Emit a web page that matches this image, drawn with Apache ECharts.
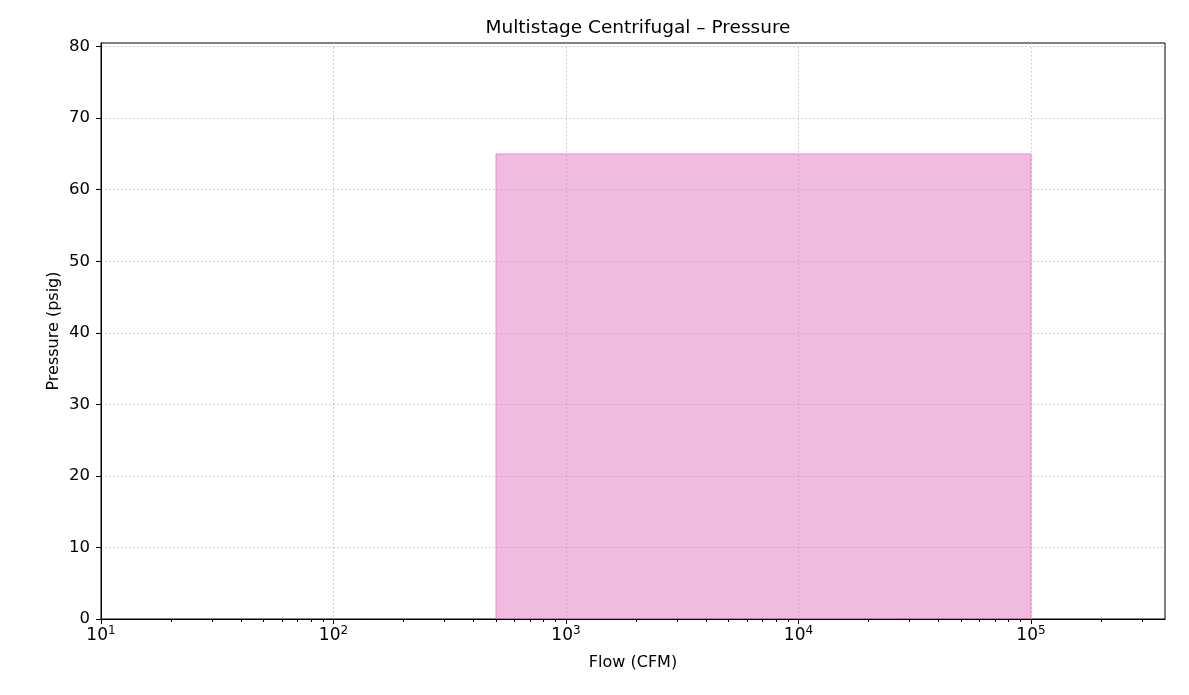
<!DOCTYPE html>
<html>
<head>
<meta charset="utf-8">
<script src="https://cdn.jsdelivr.net/npm/echarts@6/dist/echarts.min.js"></script>
<style>html,body{margin:0;padding:0;background:#fff}#c{width:1189px;height:695px}</style>
</head>
<body>
<div id="c"></div>
<script>
const title = 'Multistage Centrifugal \u2013 Pressure';
const xName = 'Flow (CFM)';
const yName = 'Pressure (psig)';
const flowRange = [500, 100000];
const pressureRange = [0, 65];
const xMajorTicks = [10, 100, 1000, 10000, 100000];
const xMinorTicks = [];
for (let d = 10; d <= 100000; d *= 10) { for (let k = 2; k <= 9; k++) { if (d * k < 377000) xMinorTicks.push(d * k); } }
const yTicks = [0, 10, 20, 30, 40, 50, 60, 70, 80];
const xMin = 10, xMax = 377000, yMin = 0, yMax = 80.5;

const font = 'DejaVu Sans';
const chart = echarts.init(document.getElementById('c'), null, {renderer: 'canvas'});
const rectData = [[flowRange[0], pressureRange[0]], [flowRange[0], pressureRange[1]], [flowRange[1], pressureRange[1]], [flowRange[1], pressureRange[0]]];
chart.setOption({
  animation: false,
  title: {text: title, left: 633, top: 14, textAlign: 'center', textStyle: {fontFamily: font, fontSize: 18.5, fontWeight: 'normal', color: '#000'}},
  grid: {left: 101, right: 24, top: 43, bottom: 76, show: true, borderColor: '#000', borderWidth: 1, backgroundColor: 'transparent'},
  xAxis: [{
    type: 'log', logBase: 10, min: xMin, max: xMax,
    name: xName, nameLocation: 'middle', nameGap: 36,
    nameTextStyle: {fontFamily: font, fontSize: 16, color: '#000'},
    axisLine: {lineStyle: {color: '#000', width: 1}},
    axisTick: {customValues: xMajorTicks, length: 5, lineStyle: {color: '#000'}},
    axisLabel: {customValues: xMajorTicks, margin: 6, fontFamily: font, fontSize: 17, color: '#000',
      formatter: v => '{b|10}{s|' + Math.round(Math.log10(v)) + '}',
      rich: {
        b: {fontFamily: font, fontSize: 17, color: '#000'},
        s: {fontFamily: font, fontSize: 12, color: '#000', padding: [0, 0, 9, 0]}
      }},
    splitLine: {show: true, lineStyle: {color: '#b0b0b0', type: [1.5, 2.5], width: 0.8}},
    minorTick: {show: false}
  }, {
    type: 'log', logBase: 10, min: xMin, max: xMax, position: 'bottom', gridIndex: 0,
    axisLine: {show: false},
    axisTick: {customValues: xMinorTicks, length: 3, lineStyle: {color: '#000'}},
    axisLabel: {show: false},
    splitLine: {show: false}
  }],
  yAxis: {
    type: 'value', min: yMin, max: yMax,
    name: yName, nameLocation: 'middle', nameGap: 39, nameMoveOverlap: false,
    nameTextStyle: {fontFamily: font, fontSize: 16, color: '#000'},
    axisLine: {show: true, lineStyle: {color: '#000', width: 1}},
    axisTick: {show: true, customValues: yTicks, length: 5, lineStyle: {color: '#000'}},
    axisLabel: {customValues: yTicks, margin: 11, fontFamily: font, fontSize: 16.5, color: '#000'},
    splitLine: {show: true, lineStyle: {color: '#b0b0b0', type: [1.5, 2.5], width: 0.8}}
  },
  series: [{
    type: 'line', xAxisIndex: 0, data: rectData, symbol: 'none', silent: true,
    lineStyle: {color: 'rgba(227,119,194,0.75)', width: 1},
    areaStyle: {color: 'rgba(227,119,194,0.5)', opacity: 1, origin: 0}
  }]
});
</script>
</body>
</html>
